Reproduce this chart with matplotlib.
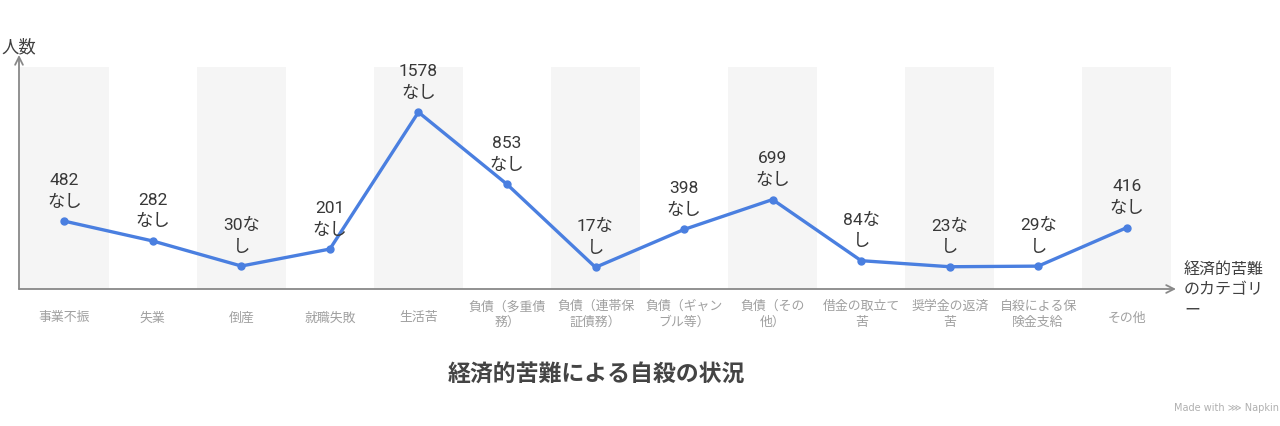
import matplotlib.pyplot as plt
from matplotlib.patches import FancyArrowPatch

plt.rcParams['font.family'] = ['Noto Sans CJK JP', 'DejaVu Sans']

# data
categories = ["事業不振", "失業", "倒産", "就職失敗", "生活苦",
              "負債（多重債\n務）", "負債（連帯保\n証債務）", "負債（ギャン\nブル等）",
              "負債（その\n他）", "借金の取立て\n苦", "奨学金の返済\n苦",
              "自殺による保\n険金支給", "その他"]
values = [482, 282, 30, 201, 1578, 853, 17, 398, 699, 84, 23, 29, 416]
point_labels = ["482\nなし", "282\nなし", "30な\nし", "201\nなし", "1578\nなし",
                "853\nなし", "17な\nし", "398\nなし", "699\nなし", "84な\nし",
                "23な\nし", "29な\nし", "416\nなし"]

W, H = 1280, 427
fig = plt.figure(figsize=(W / 100, H / 100), dpi=100)

# axes box in pixels: x 20..1171, y 60..290 (from top)
ax_l, ax_r, ax_t, ax_b = 20, 1171, 60, 290
ax = fig.add_axes([ax_l / W, (H - ax_b) / H, (ax_r - ax_l) / W, (ax_b - ax_t) / H])

ymin, ymax = -201, 2113
band_top = 2030
n = len(categories)
xs = list(range(n))

# alternate grey bands
for i in xs:
    if i % 2 == 0:
        ax.bar(i, band_top - ymin, bottom=ymin, width=1.0, color='#f5f5f5',
               edgecolor='none', zorder=0)

ax.plot(xs, values, color='#4a7fe0', lw=2.4, marker='o', ms=5,
        solid_joinstyle='round', zorder=3)

for x, v, lab in zip(xs, values, point_labels):
    ax.annotate(lab, (x, v), xytext=(0, 9), textcoords='offset points',
                ha='center', va='bottom', fontsize=12.5, color='#383838',
                family=['Roboto', 'Noto Sans CJK JP'], linespacing=1.55, zorder=4)

ax.set_xlim(-0.5, n - 0.5)
ax.set_ylim(ymin, ymax)
for s in ax.spines.values():
    s.set_visible(False)
ax.set_yticks([])
ax.set_xticks([])

# category labels below the axis
for x, lab in zip(xs, categories):
    yc = 314.5 if '\n' in lab else 318
    ax.annotate(lab, (x, ymin), xytext=(0, -(yc - ax_b) * 0.72),
                textcoords='offset points', ha='center', va='center',
                fontsize=9.3, color='#a0a0a0', linespacing=1.25,
                annotation_clip=False)

# axis arrows
arrow = dict(arrowstyle='->', color='#888888', lw=1.3, shrinkA=0, shrinkB=0,
             mutation_scale=14)
fig.add_artist(FancyArrowPatch((19 / W, (H - 290) / H), (19 / W, (H - 56) / H),
                               transform=fig.transFigure, **arrow))
fig.add_artist(FancyArrowPatch((19 / W, (H - 290) / H), (1176 / W, (H - 290) / H),
                               transform=fig.transFigure, **arrow))

fig.text(1 / W, (H - 47) / H, "人数", fontsize=12.5, color='#404040',
         ha='left', va='center')
fig.text(1184 / W, (H - 290) / H, "経済的苦難\nのカテゴリ\nー", fontsize=11.5,
         color='#404040', ha='left', va='center', linespacing=1.2)

fig.text(596 / W, (H - 375) / H, "経済的苦難による自殺の状況", fontsize=16.5,
         fontweight='bold', color='#444444', ha='center', va='center')
fig.text(1279 / W, (H - 408) / H, "Made with ⋙ Napkin", fontsize=7,
         color='#b0b0b0', ha='right', va='center', family=['DejaVu Sans'])

fig.savefig('out.png', dpi=100)
